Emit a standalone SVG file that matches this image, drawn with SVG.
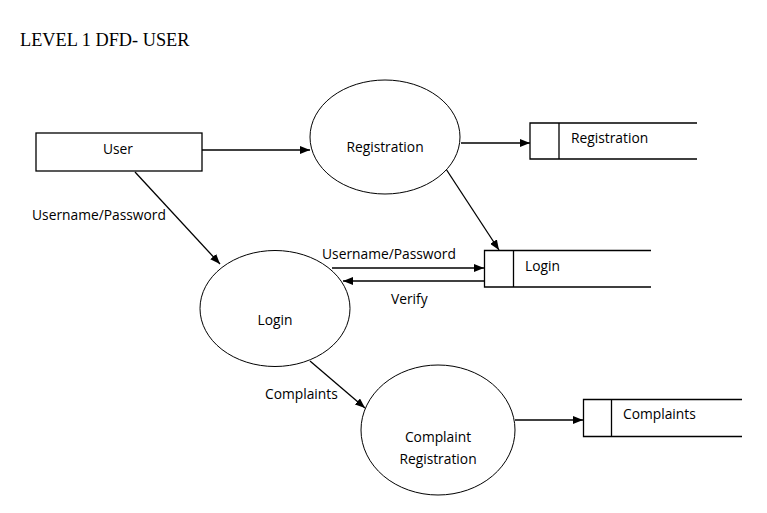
<svg xmlns="http://www.w3.org/2000/svg" width="767" height="513" viewBox="0 0 767 513">
<style>
.t{font-family:"Open Sans","Liberation Sans",sans-serif;font-size:13.8px;fill:#000}
.title{font-family:"Liberation Serif",serif;font-size:18.3px;fill:#000}
.proc{fill:#fff;stroke:#000;stroke-width:1}
.box{fill:#fff;stroke:#000;stroke-width:1.3}
.ds{fill:none;stroke:#000;stroke-width:1.3}
.flow{fill:none;stroke:#000;stroke-width:1.3;marker-end:url(#ah)}
</style>
<defs>
<marker id="ah" viewBox="0 0 10 8" refX="10" refY="4" markerWidth="10" markerHeight="8" markerUnits="userSpaceOnUse" orient="auto">
<path d="M0,0 L10,4 L0,8 Z" fill="#000"/>
</marker>
</defs>
<rect width="767" height="513" fill="#fff"/>
<text class="title" x="20" y="46">LEVEL 1 DFD- USER</text>
<g id="connectors">
<line class="flow" x1="202" y1="150" x2="310" y2="150"/>
<line class="flow" x1="461" y1="143" x2="530" y2="143"/>
<line class="flow" x1="446" y1="169" x2="499" y2="250"/>
<line class="flow" x1="135" y1="172" x2="220" y2="264"/>
<line class="flow" x1="332" y1="268" x2="484" y2="268"/>
<line class="flow" x1="484" y1="281" x2="343" y2="281"/>
<line class="flow" x1="310" y1="361" x2="365" y2="408"/>
<line class="flow" x1="515" y1="420" x2="583" y2="420"/>
<text class="t" x="32" y="220">Username/Password</text>
<text class="t" x="322" y="259">Username/Password</text>
<text class="t" x="391" y="304">Verify</text>
<text class="t" x="265" y="399">Complaints</text>
</g>
<g id="user">
<rect class="box" x="36" y="133" width="166" height="38"/>
<text class="t" x="118" y="154" text-anchor="middle">User</text>
</g>
<g id="registration">
<ellipse class="proc" cx="385" cy="137" rx="75" ry="57"/>
<text class="t" x="385" y="152" text-anchor="middle">Registration</text>
</g>
<g id="ds-registration">
<path class="ds" d="M697,123 H530 V159 H697 M559,123 V159"/>
<text class="t" x="571" y="143">Registration</text>
</g>
<g id="login">
<ellipse class="proc" cx="275" cy="308.5" rx="75" ry="58"/>
<text class="t" x="275" y="325" text-anchor="middle">Login</text>
</g>
<g id="ds-login">
<path class="ds" d="M651,250.5 H484.5 V287 H651 M513.5,250.5 V287"/>
<text class="t" x="525" y="271">Login</text>
</g>
<g id="complaint-registration">
<ellipse class="proc" cx="438" cy="430" rx="77" ry="65"/>
<text class="t" x="438" y="442" text-anchor="middle">Complaint</text>
<text class="t" x="438" y="464" text-anchor="middle">Registration</text>
</g>
<g id="ds-complaints">
<path class="ds" d="M742,399.5 H583.5 V436.5 H742 M611.5,399.5 V436.5"/>
<text class="t" x="623" y="419">Complaints</text>
</g>
</svg>
